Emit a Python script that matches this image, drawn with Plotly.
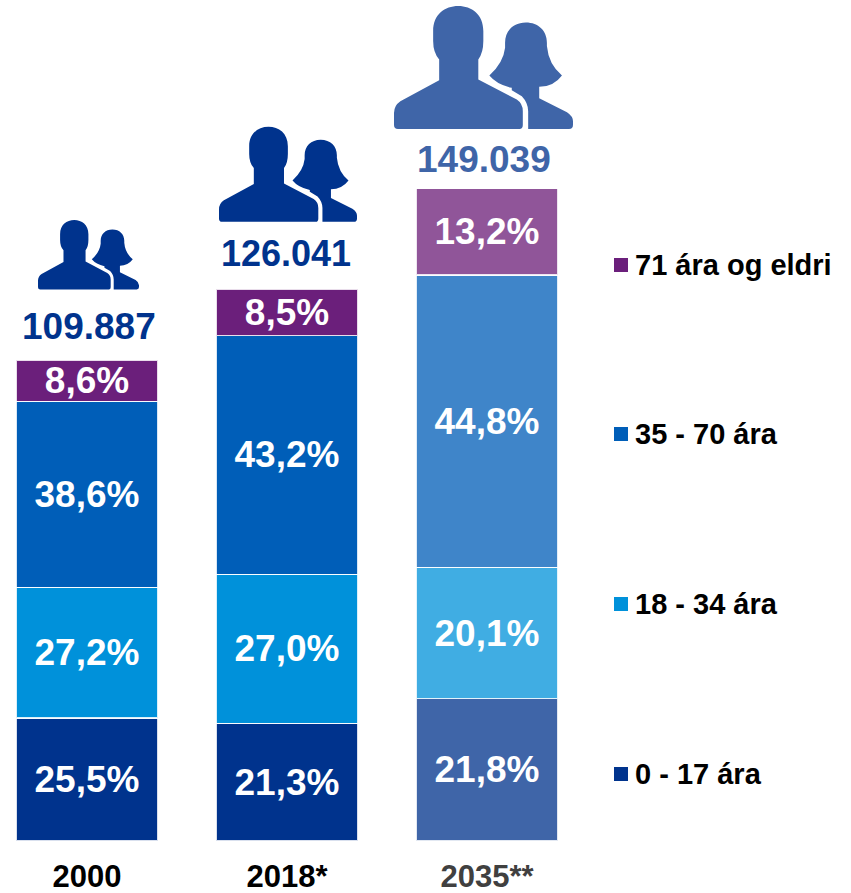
import plotly.graph_objects as go

# --- data -------------------------------------------------------------
years = ["2000", "2018*", "2035**"]
totals = [109887, 126041, 149039]
total_labels = ["109.887", "126.041", "149.039"]
age_groups = ["0 - 17 ára", "18 - 34 ára", "35 - 70 ára", "71 ára og eldri"]
share_0_17 = [25.5, 21.3, 21.8]
share_18_34 = [27.2, 27.0, 20.1]
share_35_70 = [38.6, 43.2, 44.8]
share_71 = [8.6, 8.5, 13.2]

# --- styling ----------------------------------------------------------
W, H = 851, 893
AXIS_BOTTOM = 841
FONT = "Liberation Sans, Arial, sans-serif"
colors_0_17 = ["#00338D", "#00338D", "#3F65A8"]
colors_18_34 = ["#0091DA", "#0091DA", "#40ADE3"]
colors_35_70 = ["#005EB8", "#005EB8", "#3F85C9"]
colors_71 = ["#6B1F7B", "#6B1F7B", "#905599"]
total_colors = ["#00338D", "#00338D", "#3F65A8"]
total_sizes = [37, 36, 37]
year_colors = ["#000000", "#000000", "#404040"]
legend_colors = ["#00338D", "#0091DA", "#005EB8", "#6B1F7B"]
legend_py = [774, 604, 434, 265]
total_shift = [33, 35, 29]
total_xshift = [2, -1, -3]
icon_width = [101, 138, 179]
icon_left = [-49, -68, -93]
icon_lift = [70, 67, 59]

series = [
    (share_0_17, colors_0_17, age_groups[0]),
    (share_18_34, colors_18_34, age_groups[1]),
    (share_35_70, colors_35_70, age_groups[2]),
    (share_71, colors_71, age_groups[3]),
]

fig = go.Figure()
for shares, cols, name in series:
    fig.add_trace(go.Bar(
        x=years,
        y=[t * s / 100 for t, s in zip(totals, shares)],
        name=name,
        width=0.71,
        marker=dict(color=cols, line=dict(color="rgba(255,255,255,0.85)", width=1.5)),
        text=[f"{s:.1f}%".replace(".", ",") for s in shares],
        textposition="inside",
        insidetextanchor="middle",
        textangle=0,
        constraintext="none",
        textfont=dict(family=FONT, size=37, color="white", weight="bold"),
        cliponaxis=False,
    ))

annotations = []
for i, (t, lab, col, sh, xs, sz) in enumerate(zip(totals, total_labels, total_colors, total_shift, total_xshift, total_sizes)):
    annotations.append(dict(
        x=i, y=t, xref="x", yref="y", text=f"<b>{lab}</b>", showarrow=False,
        yshift=sh, xshift=xs, yanchor="middle", xanchor="center",
        font=dict(family=FONT, size=sz, color=col),
    ))

shapes = []
for name, col, py in zip(age_groups, legend_colors, legend_py):
    annotations.append(dict(
        x=635 / W, y=(AXIS_BOTTOM - py) / AXIS_BOTTOM, xref="paper", yref="paper",
        text=f"<b>{name}</b>", showarrow=False, xanchor="left", yanchor="middle",
        xshift=-2, font=dict(family=FONT, size=29, color="#000000"),
    ))
    shapes.append(dict(
        type="rect", xref="paper", yref="paper",
        x0=614 / W, x1=628 / W,
        y0=(AXIS_BOTTOM - py - 7) / AXIS_BOTTOM, y1=(AXIS_BOTTOM - py + 7) / AXIS_BOTTOM,
        fillcolor=col, line=dict(width=0),
    ))

# people icon outline, in a 535-wide design space (y down)
MAN = [
    ("M", 55, 388), ("L", 418, 388), ("Q", 428, 388, 428, 376), ("L", 428, 335),
    ("Q", 428, 312, 410, 300), ("L", 295, 240), ("L", 295, 180), ("Q", 310, 160, 310, 125),
    ("L", 310, 95), ("C", 310, 45, 275, 20, 235, 20), ("C", 195, 20, 160, 45, 160, 95),
    ("L", 160, 125), ("Q", 160, 160, 178, 180), ("L", 178, 242), ("L", 62, 305),
    ("Q", 43, 318, 43, 340), ("L", 43, 376), ("Q", 43, 388, 55, 388),
]
WOMAN = [
    ("M", 444, 388), ("L", 566, 388), ("Q", 578, 388, 578, 375), ("L", 578, 365),
    ("Q", 578, 350, 560, 338), ("L", 477, 296), ("L", 477, 262), ("Q", 520, 262, 545, 228),
    ("Q", 505, 195, 500, 140), ("L", 500, 130), ("C", 500, 95, 475, 70, 437, 70),
    ("C", 400, 70, 375, 95, 375, 130), ("L", 375, 145), ("Q", 370, 190, 328, 228),
    ("Q", 350, 255, 395, 265), ("L", 395, 272), ("L", 425, 290), ("Q", 444, 310, 444, 335),
]


def icon_path(cmds, scale, left, lift):
    parts = []
    for c in cmds:
        pts = c[1:]
        out = []
        for i in range(0, len(pts), 2):
            px = (pts[i] - 43) * scale + left
            py = (388 - pts[i + 1]) * scale + lift
            out.append(f"{px:.2f},{py:.2f}")
        parts.append(c[0] + " " + " ".join(out))
    return " ".join(parts) + " Z"


for i, (t, col, w, left, lift) in enumerate(zip(totals, total_colors, icon_width, icon_left, icon_lift)):
    s = w / 535
    for cmds in (MAN, WOMAN):
        shapes.append(dict(
            type="path", xref="x", yref="y", xsizemode="pixel", ysizemode="pixel",
            xanchor=i, yanchor=t, path=icon_path(cmds, s, left, lift),
            fillcolor=col, line=dict(width=0),
        ))

fig.update_layout(
    width=W, height=H,
    margin=dict(l=0, r=0, t=0, b=H - AXIS_BOTTOM, pad=0),
    barmode="stack",
    showlegend=False,
    paper_bgcolor="white",
    plot_bgcolor="white",
    annotations=annotations,
    shapes=shapes,
    xaxis=dict(
        type="category",
        range=[-87 / 200, (W - 87) / 200],
        tickmode="array",
        tickvals=years,
        ticktext=[f'<b><span style="color:{c}">{y}</span></b>' for y, c in zip(years, year_colors)],
        tickfont=dict(family=FONT, size=31),
        ticks="",
        ticklabelstandoff=14,
        automargin=False,
        showline=False,
        showgrid=False,
        zeroline=False,
    ),
    yaxis=dict(
        range=[0, 191950],
        visible=False,
        automargin=False,
        showgrid=False,
        zeroline=False,
    ),
)

fig.write_html("out.html", post_script="document.body.style.margin='0';", config={"displayModeBar": False})
